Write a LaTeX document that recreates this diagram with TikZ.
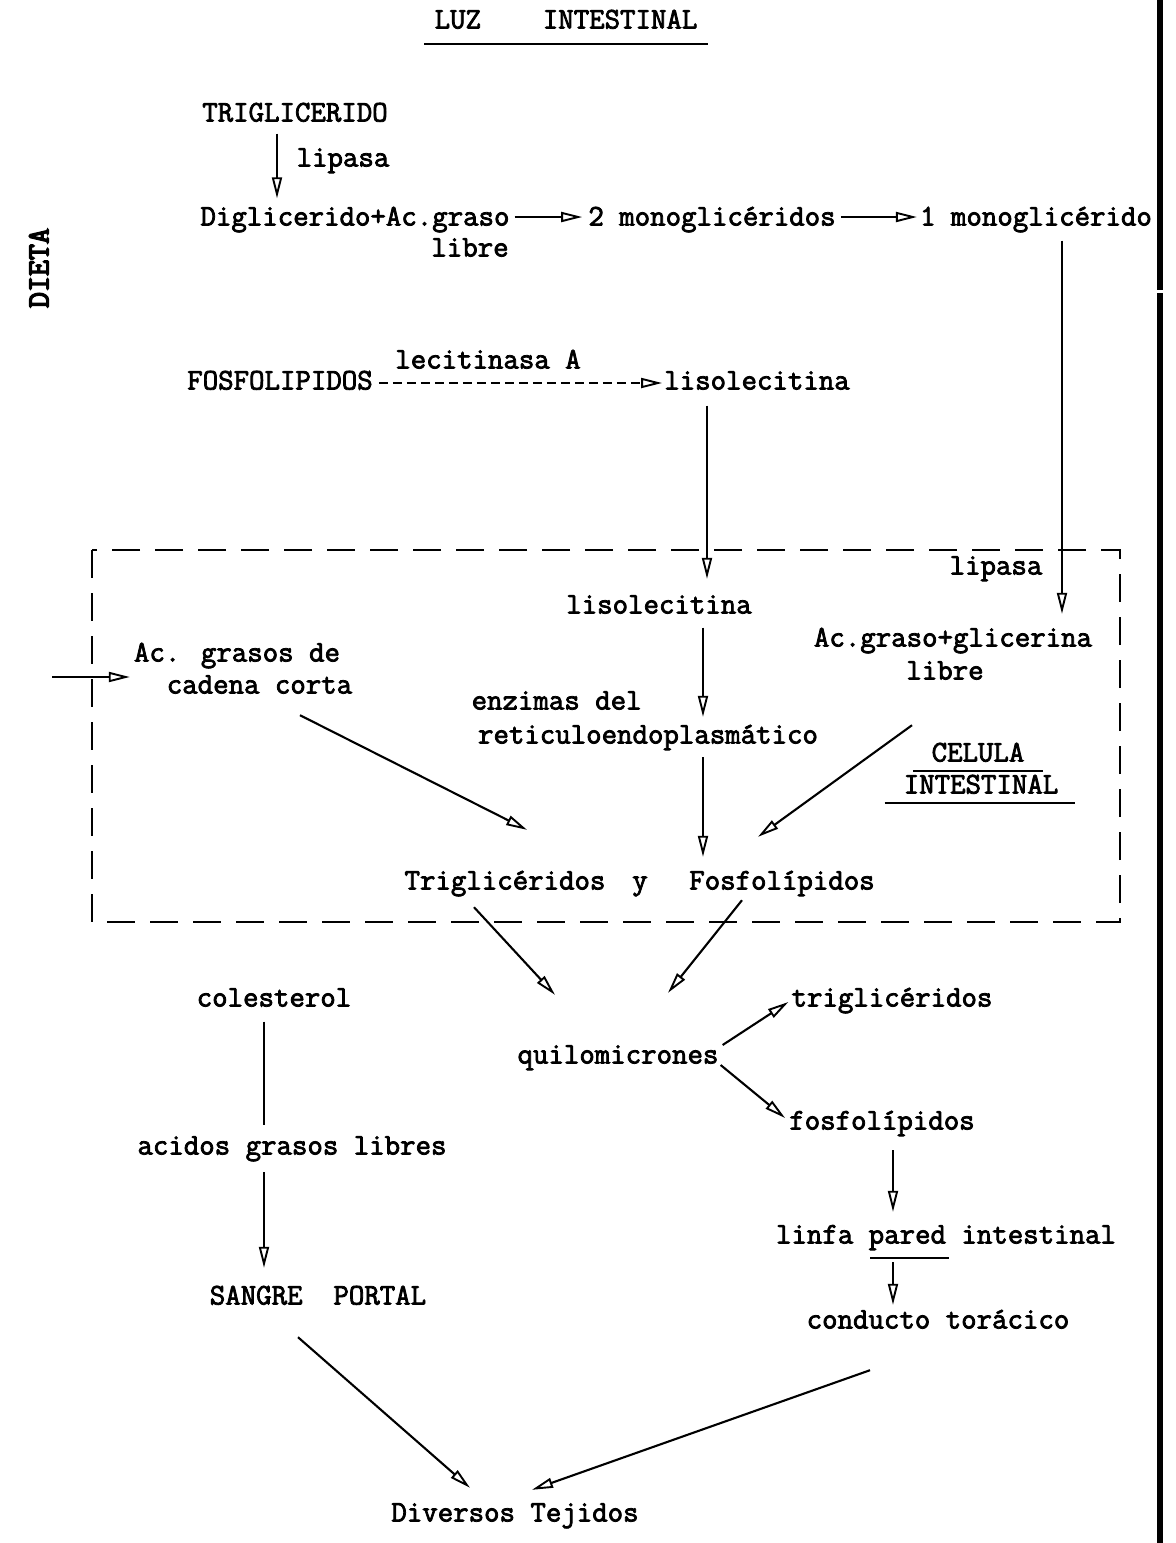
\documentclass[tikz,border=0pt]{standalone}
\usepackage{fontspec}
\usetikzlibrary{arrows.meta,calc}
% typewriter face, emboldened to a typed-ribbon weight
\newfontfamily\twfont{Latin Modern Mono}[FakeBold=2.6]
\newfontfamily\twbold{Latin Modern Mono}[FakeBold=4.5]
\begin{document}
\begin{tikzpicture}[x=1pt,y=-1pt,
  lbl/.style={inner sep=0pt,font=\twfont\fontsize{30}{34}\selectfont,text height=18pt,text depth=5pt},
  conn/.style={line width=2.1pt,-{Triangle[open,length=21pt,width=10pt,line width=1.9pt]}},
  plainline/.style={line width=2.1pt},
  ul/.style={line width=1.9pt},
  dashbox/.style={line width=2.1pt,dash pattern=on 28pt off 15pt},
  dashconn/.style={conn,dash pattern=on 9pt off 5pt},
  edgebar/.style={line width=5.5pt}]
\fill[white] (0,0) rectangle (1176,1543);
\useasboundingbox (0,0) rectangle (1176,1543);

% header and side label
\node[lbl] (luz) at (566,22) {LUZ~~~~INTESTINAL};
\draw[ul] ($(luz.south west)+(-10,10)$) -- ($(luz.south east)+(10,10)$);
\node[lbl,rotate=90,font=\twbold\fontsize{31}{34}\selectfont] (dieta) at (42,268) {DIETA};

% lumen: triglycerides
\node[lbl] (trig) at (295,115) {TRIGLICERIDO};
\node[lbl] (lipasa1) at (343,160) {lipasa};
\node[lbl] (digl) at (355,219) {Diglicerido+Ac.graso};
\node[lbl] (libre1) at (470,250) {libre};
\node[lbl] (mono2) at (712,219) {2 monoglicéridos};
\node[lbl] (mono1) at (1036,219) {1 monoglicérido};
\draw[conn] ($(trig.south)+(-18,7)$) -- ($(digl.north)+(-78,-9)$);
\draw[conn] ($(digl.east)+(5,-2)$) -- ($(mono2.west)+(-6,-2)$);
\draw[conn] ($(mono2.east)+(5,-2)$) -- ($(mono1.west)+(-3,-2)$);

% lumen: phospholipids
\node[lbl] (fosfo) at (280,383) {FOSFOLIPIDOS};
\node[lbl] (lecit) at (488,362) {lecitinasa A};
\node[lbl] (liso1) at (757,383) {lisolecitina};
\draw[dashconn] ($(fosfo.east)+(6,0)$) -- ($(liso1.west)+(-2,0)$);

% intestinal cell
\draw[dashbox] (92,550) rectangle (1120,922);
\node[lbl] (lipasa2) at (996,568) {lipasa};
\node[lbl] (liso2) at (659,607) {lisolecitina};
\node[lbl] (acgl) at (953,640) {Ac.graso+glicerina};
\node[lbl] (libre2) at (945,673) {libre};
\node[lbl] (acgr) at (237,655) {Ac. grasos de};
\node[lbl] (cadena) at (259.5,687) {cadena corta};
\node[lbl] (enz) at (556.6,703) {enzimas del};
\node[lbl] (ret) at (648,737) {reticuloendoplasmático};
\node[lbl] (celula) at (978,755) {CELULA};
\node[lbl] (intest) at (981,787) {INTESTINAL};
\draw[ul] ($(celula.south west)+(-18,4)$) -- ($(celula.south east)+(18,4)$);
\draw[ul] ($(intest.south west)+(-19,4.5)$) -- ($(intest.south east)+(17,4.5)$);
\node[lbl] (tg) at (505,883) {Triglicéridos};
\node[lbl] (yy) at (640,883) {y};
\node[lbl] (fo) at (782,883) {Fosfolípidos};
\coordinate (inlet) at (52,677);

\draw[conn] ($(mono1.south)+(26,10)$) -- ($(acgl.north)+(109,-14.5)$);
\draw[conn] ($(liso1.south)+(-50,11)$) -- ($(liso2.north)+(48,-16.5)$);
\draw[conn] ($(liso2.south)+(44,9)$) -- ($(ret.north)+(55,-8.5)$);
\draw[conn] ($(ret.south)+(55,8.5)$) -- ($(fo.north)+(-79,-14.5)$);
\draw[conn] (inlet) -- ($(acgr.west)+(-4,22)$);
\draw[conn] ($(cadena.south)+(40.5,16.5)$) -- ($(tg.north)+(22,-41.5)$);
\draw[conn] ($(libre2.south)+(-33,40.5)$) -- ($(fo.north)+(-24,-34.5)$);

% below the cell
\node[lbl] (col) at (274,1000) {colesterol};
\node[lbl] (quil) at (618,1057) {quilomicrones};
\node[lbl] (trig3) at (892,1000) {triglicéridos};
\node[lbl] (fos3) at (882,1123) {fosfolípidos};
\node[lbl] (acidos) at (292,1148) {acidos grasos libres};
\node[lbl] (linfa) at (946,1237) {linfa pared intestinal};
\draw[ul] ($(linfa.south west)+(94.5,9)$) -- ($(linfa.south west)+(173.25,9)$);
\node[lbl] (sangre) at (318,1298) {SANGRE~~PORTAL};
\node[lbl] (cond) at (938,1322) {conducto torácico};
\node[lbl] (div) at (515,1515) {Diversos Tejidos};

\draw[conn] ($(tg.south)+(-31,12.5)$) -- ($(quil.north)+(-63,-50.5)$);
\draw[conn] ($(fo.south)+(-40,5.5)$) -- ($(quil.north)+(50,-52.5)$);
\draw[conn] ($(quil.east)+(4,-12)$) -- ($(trig3.west)+(-3,2)$);
\draw[conn] ($(quil.east)+(2,8)$) -- ($(fos3.west)+(-4,-5)$);
\draw[plainline] ($(col.south)+(-10,10)$) -- ($(acidos.north)+(-28,-11.5)$);
\draw[conn] ($(acidos.south)+(-28,12.5)$) -- ($(sangre.north)+(-54,-18.5)$);
\draw[conn] ($(fos3.south)+(11,15.5)$) -- ($(linfa.north)+(-53,-13.5)$);
\draw[conn] ($(linfa.south)+(-53,13.5)$) -- ($(cond.north)+(-45,-5.5)$);
\draw[conn] ($(sangre.south)+(-20,27.5)$) -- ($(div.north)+(-45,-15.5)$);
\draw[conn] ($(cond.south)+(-68,36.5)$) -- ($(div.north)+(17,-13.5)$);

% page edge bar
\draw[edgebar] (1160,0) -- (1160,290);
\draw[edgebar] (1160,293) -- (1160,1543);
\end{tikzpicture}
\end{document}
